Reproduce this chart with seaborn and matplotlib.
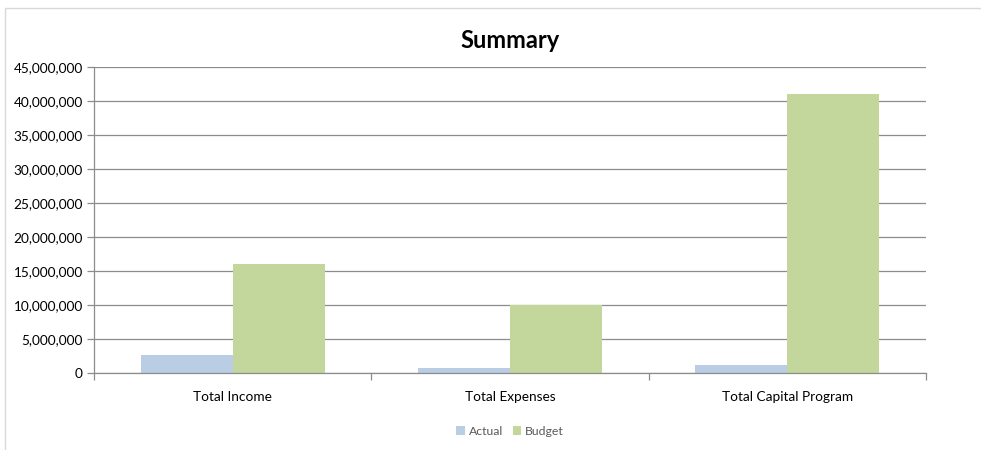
import matplotlib
matplotlib.use("Agg")
import matplotlib.pyplot as plt
from matplotlib.patches import Rectangle
from matplotlib.ticker import FuncFormatter, FixedLocator
import seaborn as sns
import pandas as pd

categories = ["Total Income", "Total Expenses", "Total Capital Program"]
actual = [2_700_000, 700_000, 1_200_000]
budget = [16_100_000, 10_000_000, 41_100_000]
series_names = ["Actual", "Budget"]
colors = ["#B9CDE5", "#C3D69B"]

df = pd.DataFrame({
    "category": categories * 2,
    "series": [series_names[0]] * 3 + [series_names[1]] * 3,
    "value": actual + budget,
})

sns.set_theme(style="white")
plt.rcParams["font.family"] = ["Lato", "DejaVu Sans"]

fig = plt.figure(figsize=(9.81, 4.5), dpi=100)
fig.patch.set_facecolor("white")
# chart-area frame
fig.add_artist(Rectangle((5 / 981, -0.01), 1.2, (450 - 8) / 450 + 0.01,
                         transform=fig.transFigure, fill=False,
                         edgecolor="#D9D9D9", linewidth=1.0))

ax = fig.add_axes([94 / 981, (450 - 373) / 450, (926 - 94) / 981, (373 - 67) / 450])
sns.barplot(data=df, x="category", y="value", hue="series", palette=colors,
            width=0.664, gap=0, saturation=1, linewidth=0, ax=ax, legend=True)

ax.set_ylim(0, 45_000_000)
ax.set_xlim(-0.5, 2.5)
ax.set_yticks(range(0, 45_000_001, 5_000_000))
ax.yaxis.set_major_formatter(FuncFormatter(lambda v, p: f"{int(v):,}"))
ax.yaxis.grid(True, color="#8C8C8C", linewidth=0.9)
ax.set_axisbelow(True)
ax.set_xlabel("")
ax.set_ylabel("")

for side in ["top", "right"]:
    ax.spines[side].set_visible(False)
for side in ["left", "bottom"]:
    ax.spines[side].set_color("#8C8C8C")
    ax.spines[side].set_linewidth(0.9)

ax.tick_params(axis="y", which="major", left=True, length=5, width=0.9,
               color="#8C8C8C", labelsize=9.8, labelcolor="#000000", pad=3)
ax.tick_params(axis="x", which="major", bottom=False, labelsize=9.8,
               labelcolor="#000000", pad=7)
ax.xaxis.set_minor_locator(FixedLocator([-0.5, 0.5, 1.5, 2.5]))
ax.tick_params(axis="x", which="minor", bottom=True, length=5, width=0.9,
               color="#8C8C8C")

ax.set_title("Summary", fontsize=17, fontweight="bold", pad=14, color="#000000")

leg = ax.legend(loc="center", bbox_to_anchor=(0.5, -0.19), ncol=2, frameon=False,
                fontsize=8.8, handlelength=0.7, handleheight=0.7, handletextpad=0.3,
                columnspacing=0.8)
for t in leg.get_texts():
    t.set_color("#595959")

fig.savefig("out.png", dpi=100, facecolor="white")
